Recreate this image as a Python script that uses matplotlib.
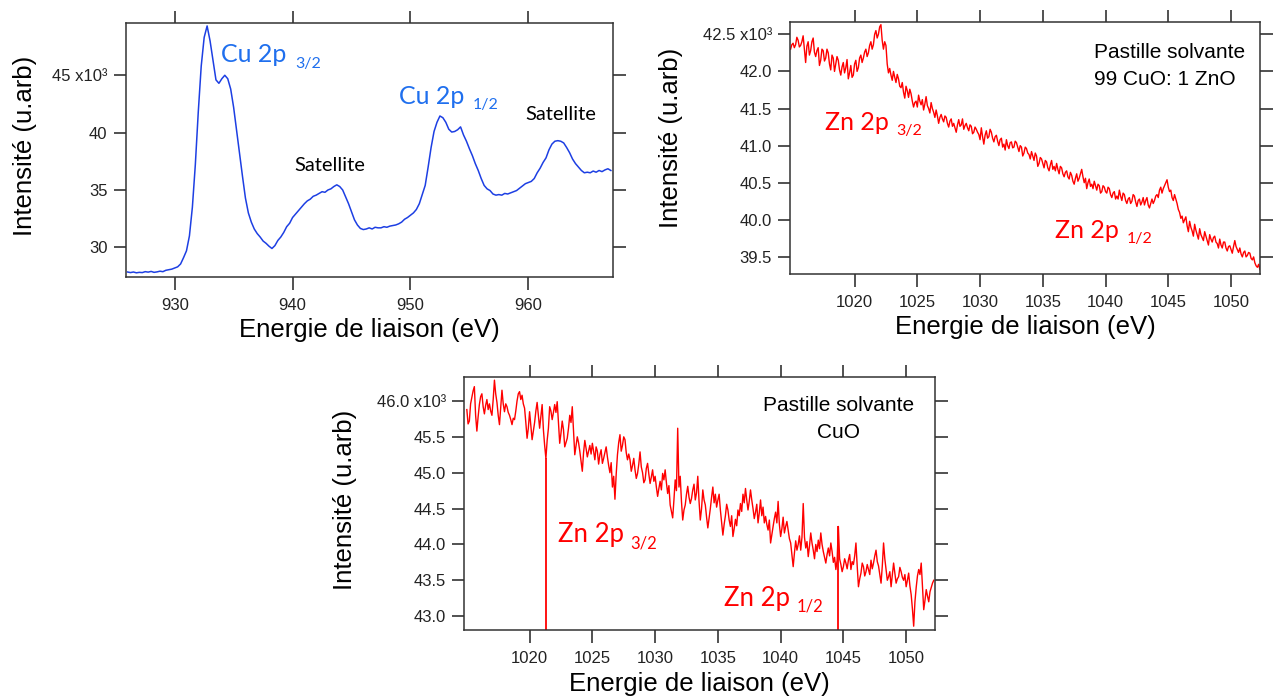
import numpy as np
import matplotlib
matplotlib.use("Agg")
import matplotlib.pyplot as plt
from matplotlib.ticker import FixedLocator, FixedFormatter

plt.rcParams['font.family'] = ['Liberation Sans', 'DejaVu Sans']

# --- Spectre Cu 2p (x10^3), pas de 0.25 eV depuis 926 eV
cu_debut, cu_pas = 926.0, 0.25
intensite_cu = [
    27.85, 27.80, 27.85, 27.78,  27.82, 27.80, 27.88, 27.84,
    27.90, 27.82, 27.86, 27.92,  27.88, 28.00, 28.05, 28.10,
    28.20, 28.30, 28.55, 29.10,  29.70, 31.00, 33.50, 37.20,
    41.80, 45.80, 48.30, 49.30,  48.00, 46.30, 44.60, 44.30,
    44.70, 45.00, 44.70, 43.80,  42.20, 40.20, 38.20, 36.20,
    34.30, 33.00, 32.20, 31.60,  31.20, 30.90, 30.55, 30.35,
    30.10, 29.90, 30.15, 30.60,  30.90, 31.30, 31.80, 32.10,
    32.60, 32.90, 33.20, 33.50,  33.80, 34.05, 34.20, 34.45,
    34.55, 34.70, 34.85, 34.80,  35.00, 35.10, 35.30, 35.45,
    35.30, 35.00, 34.40, 33.80,  33.10, 32.40, 31.95, 31.65,
    31.55, 31.60, 31.70, 31.60,  31.75, 31.70, 31.70, 31.80,
    31.75, 31.85, 31.90, 31.95,  32.05, 32.20, 32.45, 32.60,
    32.80, 33.00, 33.30, 33.80,  34.60, 35.40, 37.00, 38.70,
    40.10, 40.90, 41.45, 41.30,  40.90, 40.30, 40.05, 40.10,
    40.25, 40.50, 39.80, 39.25,  38.60, 38.00, 37.30, 36.70,
    36.00, 35.40, 35.10, 34.95,  34.65, 34.55, 34.60, 34.55,
    34.70, 34.65, 34.75, 34.85,  34.95, 35.15, 35.35, 35.55,
    35.65, 35.75, 36.00, 36.50,  36.90, 37.40, 37.80, 38.50,
    39.00, 39.25, 39.30, 39.25,  39.10, 38.70, 38.25, 37.70,
    37.30, 37.00, 36.70, 36.50,  36.55, 36.50, 36.65, 36.55,
    36.70, 36.60, 36.75, 36.85,  36.70,
]

# --- Pastille 99 CuO : 1 ZnO, Zn 2p (x10^3), pas de 0.1 eV depuis 1014.9 eV
zn99_debut, zn99_pas = 1014.9, 0.1
intensite_zn99 = [
    42.30, 42.36, 42.38, 42.32, 42.36, 42.46, 42.42, 42.33, 42.35, 42.40,
    42.48, 42.30, 42.12, 42.34, 42.40, 42.22, 42.28, 42.40, 42.45, 42.26,
    42.20, 42.28, 42.32, 42.08, 42.15, 42.30, 42.28, 42.14, 42.18, 42.30,
    42.25, 42.10, 42.02, 42.22, 42.18, 42.00, 42.10, 42.20, 42.15, 42.02,
    41.95, 42.06, 42.12, 41.98, 42.05, 42.16, 41.90, 41.98, 42.08, 41.92,
    41.95, 42.10, 42.15, 42.00, 42.05, 42.18, 42.22, 42.12, 42.18, 42.26,
    42.30, 42.20, 42.25, 42.35, 42.40, 42.30, 42.36, 42.50, 42.55, 42.45,
    42.50, 42.60, 42.63, 42.42, 42.30, 42.40, 42.35, 42.10, 41.98, 42.04,
    41.95, 41.88, 42.00, 41.92, 41.85, 41.96, 41.90, 41.80, 41.78, 41.85,
    41.72, 41.64, 41.80, 41.74, 41.65, 41.76, 41.70, 41.60, 41.52, 41.58,
    41.60, 41.52, 41.68, 41.60, 41.55, 41.62, 41.48, 41.56, 41.66, 41.54,
    41.50, 41.44, 41.58, 41.50, 41.45, 41.38, 41.48, 41.40, 41.30, 41.38,
    41.42, 41.36, 41.32, 41.40, 41.38, 41.30, 41.25, 41.33, 41.36, 41.26,
    41.30, 41.24, 41.18, 41.28, 41.35, 41.26, 41.28, 41.36, 41.22, 41.27,
    41.30, 41.24, 41.20, 41.28, 41.26, 41.16, 41.18, 41.25, 41.22, 41.18,
    41.15, 41.08, 41.24, 41.12, 41.02, 41.14, 41.20, 41.10, 41.12, 41.22,
    41.18, 41.10, 41.05, 41.12, 41.14, 41.06, 41.00, 41.08, 41.10, 40.98,
    41.02, 40.94, 41.08, 41.00, 40.96, 41.04, 41.05, 40.97, 40.98, 41.06,
    41.04, 40.98, 40.92, 41.00, 40.98, 40.86, 40.90, 40.98, 40.96, 40.90,
    40.88, 40.82, 40.92, 40.86, 40.80, 40.90, 40.86, 40.72, 40.76, 40.84,
    40.82, 40.76, 40.70, 40.80, 40.78, 40.70, 40.66, 40.74, 40.80, 40.68,
    40.72, 40.66, 40.76, 40.68, 40.62, 40.72, 40.70, 40.62, 40.58, 40.64,
    40.66, 40.58, 40.55, 40.64, 40.60, 40.52, 40.48, 40.56, 40.62, 40.52,
    40.56, 40.62, 40.68, 40.58, 40.50, 40.56, 40.42, 40.50, 40.55, 40.45,
    40.48, 40.42, 40.52, 40.46, 40.40, 40.48, 40.46, 40.36, 40.38, 40.46,
    40.44, 40.38, 40.36, 40.44, 40.42, 40.34, 40.30, 40.36, 40.38, 40.28,
    40.32, 40.28, 40.40, 40.32, 40.26, 40.36, 40.34, 40.26, 40.22, 40.28,
    40.30, 40.22, 40.25, 40.34, 40.32, 40.24, 40.18, 40.26, 40.28, 40.20,
    40.24, 40.30, 40.20, 40.26, 40.30, 40.20, 40.16, 40.22, 40.28, 40.22,
    40.26, 40.32, 40.34, 40.30, 40.40, 40.44, 40.36, 40.42, 40.46, 40.50,
    40.54, 40.44, 40.38, 40.40, 40.30, 40.26, 40.34, 40.28, 40.22, 40.14,
    40.10, 40.02, 40.05, 39.96, 40.00, 40.04, 39.92, 39.84, 39.98, 39.90,
    39.85, 39.78, 39.94, 39.86, 39.80, 39.74, 39.88, 39.80, 39.76, 39.72,
    39.84, 39.78, 39.72, 39.66, 39.80, 39.74, 39.70, 39.76, 39.78, 39.70,
    39.68, 39.62, 39.74, 39.66, 39.62, 39.70, 39.70, 39.62, 39.58, 39.64,
    39.65, 39.60, 39.55, 39.64, 39.72, 39.64, 39.60, 39.56, 39.62, 39.54,
    39.50, 39.56, 39.58, 39.50, 39.52, 39.56, 39.55, 39.48, 39.46, 39.50,
    39.42, 39.38, 39.36, 39.40, 39.33,
]

# --- Pastille CuO, region Zn 2p (x10^3), pas de 0.1 eV depuis 1015.0 eV
cuo_debut, cuo_pas = 1015.0, 0.1
intensite_cuo = [
    45.88, 45.68, 45.72, 45.96, 46.05, 46.14, 46.20, 45.80, 45.58, 45.78,
    45.95, 46.06, 46.10, 45.92, 45.82, 45.94, 46.02, 45.88, 45.96, 45.86,
    45.80, 46.02, 46.29, 46.10, 45.98, 45.80, 45.67, 45.92, 46.15, 45.96,
    45.85, 45.96, 45.92, 45.84, 45.80, 45.74, 45.67, 45.76, 45.74, 45.86,
    46.00, 46.10, 46.13, 46.02, 46.08, 45.96, 45.90, 45.70, 45.48, 45.62,
    45.85, 45.66, 45.46, 45.58, 45.70, 45.86, 45.98, 45.80, 45.62, 45.78,
    45.95, 45.60, 45.38, 45.20, 45.45, 45.62, 45.92, 45.86, 45.74, 45.84,
    45.95, 45.84, 45.99, 45.70, 45.41, 45.55, 45.72, 45.60, 45.36, 45.42,
    45.48, 45.62, 45.80, 45.70, 45.92, 45.58, 45.25, 45.38, 45.50, 45.42,
    45.30, 45.16, 45.02, 45.28, 45.45, 45.34, 45.22, 45.30, 45.38, 45.26,
    45.41, 45.30, 45.18, 45.36, 45.30, 45.12, 45.25, 45.32, 45.13, 45.20,
    45.28, 45.36, 45.22, 45.10, 45.00, 45.14, 44.80, 44.95, 44.63, 44.98,
    45.25, 45.42, 45.53, 45.30, 45.38, 45.50, 45.46, 45.28, 45.18, 45.26,
    45.18, 45.02, 45.10, 45.20, 45.04, 44.92, 44.99, 45.12, 45.29, 45.08,
    45.00, 44.86, 44.90, 45.06, 45.13, 44.98, 44.85, 44.94, 45.04, 44.88,
    44.95, 44.80, 44.67, 44.78, 44.88, 44.76, 44.99, 44.90, 45.04, 44.86,
    44.71, 44.82, 44.55, 44.46, 44.37, 44.62, 44.90, 44.75, 45.62, 44.80,
    44.95, 44.60, 44.34, 44.48, 44.55, 44.70, 44.81, 44.66, 44.57, 44.64,
    44.76, 44.84, 44.62, 44.72, 44.95, 44.60, 44.34, 44.50, 44.76, 44.62,
    44.55, 44.38, 44.23, 44.36, 44.50, 44.66, 44.80, 44.58, 44.70, 44.52,
    44.62, 44.70, 44.48, 44.30, 44.13, 44.28, 44.40, 44.56, 44.48, 44.34,
    44.25, 44.40, 44.11, 44.22, 44.35, 44.26, 44.48, 44.40, 44.57, 44.46,
    44.70, 44.58, 44.78, 44.62, 44.48, 44.60, 44.76, 44.62, 44.50, 44.36,
    44.45, 44.56, 44.30, 44.44, 44.62, 44.40, 44.52, 44.30, 44.39, 44.28,
    44.20, 44.34, 44.02, 44.14, 44.25, 44.36, 44.45, 44.30, 44.60, 44.28,
    44.11, 44.22, 44.38, 44.16, 44.25, 44.32, 44.20, 44.08, 44.02, 43.86,
    43.69, 43.88, 44.05, 43.92, 44.00, 44.12, 43.92, 44.10, 44.57, 44.10,
    43.95, 44.04, 43.83, 43.98, 44.16, 44.02, 43.92, 43.80, 44.00, 43.90,
    44.06, 43.94, 44.16, 44.00, 43.90, 43.82, 43.74, 43.86, 43.95, 43.84,
    44.02, 43.90, 43.75, 43.82, 43.65, 43.78, 44.25, 43.80, 43.72, 43.62,
    43.69, 43.80, 43.74, 43.66, 43.78, 43.86, 43.65, 43.76, 43.72, 43.84,
    44.02, 43.70, 43.41, 43.52, 43.60, 43.74, 43.69, 43.56, 43.62, 43.72,
    43.65, 43.58, 43.78, 43.66, 43.74, 43.84, 43.92, 43.76, 43.70, 43.58,
    43.46, 43.70, 44.02, 43.80, 43.65, 43.50, 43.55, 43.62, 43.41, 43.58,
    43.74, 43.60, 43.46, 43.52, 43.55, 43.68, 43.62, 43.54, 43.50, 43.58,
    43.41, 43.50, 43.60, 43.42, 43.30, 43.10, 42.86, 43.20, 43.40, 43.56,
    43.65, 43.58, 43.74, 43.40, 43.09, 43.22, 43.37, 43.28, 43.20, 43.34,
    43.40, 43.46, 43.50,
]
# traits verticaux marquant Zn 2p sur le spectre CuO
zn_traits_e = [1021.3, 1044.6]
zn_traits_haut = [45.20, 44.25]

# graduations
cu_xticks = [930, 940, 950, 960]
cu_yticks = [30, 35, 40, 45]
cu_ylabels = ["30", "35", "40", "45 x10³"]
zn_xticks = [1020, 1025, 1030, 1035, 1040, 1045, 1050]
zn99_yticks = [39.5, 40.0, 40.5, 41.0, 41.5, 42.0, 42.5]
zn99_ylabels = ["39.5", "40.0", "40.5", "41.0", "41.5", "42.0", "42.5 x10³"]
cuo_yticks = [43.0, 43.5, 44.0, 44.5, 45.0, 45.5, 46.0]
cuo_ylabels = ["43.0", "43.5", "44.0", "44.5", "45.0", "45.5", "46.0 x10³"]

bleu_trace = '#1d3fe3'
bleu_texte = '#1f6fee'
rouge = '#ff0000'
W, H = 1277, 700

fig = plt.figure(figsize=(W / 100, H / 100), dpi=100)
ax1 = fig.add_axes([0.0984, 0.6047, 0.3818, 0.362])
ax2 = fig.add_axes([0.6186, 0.6086, 0.368, 0.3604])
ax3 = fig.add_axes([0.3636, 0.0993, 0.3686, 0.3617])


def style_axe(ax, xticks, yticks, ylabels, xlim, ylim, ylab_x, ylab_y):
    ax.set_xlim(*xlim)
    ax.set_ylim(*ylim)
    ax.xaxis.set_major_locator(FixedLocator(xticks))
    ax.yaxis.set_major_locator(FixedLocator(yticks))
    ax.yaxis.set_major_formatter(FixedFormatter(ylabels))
    ax.tick_params(direction='out', length=9, width=1.1, pad=4,
                   labelsize=12, colors='#222222',
                   top=True, right=True, labeltop=False, labelright=False)
    ax.tick_params(axis='x', pad=6)
    for s in ax.spines.values():
        s.set_color('#333333')
        s.set_linewidth(1.1)
    ax.set_xlabel('Energie de liaison (eV)', fontsize=18.5, labelpad=4)
    ax.set_ylabel('Intensité (u.arb)', fontsize=18.5)
    ax.yaxis.set_label_coords(ylab_x, ylab_y)


e_cu = cu_debut + cu_pas * np.arange(len(intensite_cu))
e_zn99 = zn99_debut + zn99_pas * np.arange(len(intensite_zn99))
e_cuo = cuo_debut + cuo_pas * np.arange(len(intensite_cuo))

ax1.plot(e_cu, intensite_cu, color=bleu_trace, lw=1.1)
style_axe(ax1, cu_xticks, cu_yticks, cu_ylabels, (925.84, 967.2), (27.44, 49.53), -0.182, 0.516)

ax2.plot(e_zn99, intensite_zn99, color=rouge, lw=1.0)
style_axe(ax2, zn_xticks, zn99_yticks, zn99_ylabels, (1014.85, 1052.3), (39.27, 42.67), -0.228, 0.539)

ax3.plot(e_cuo, intensite_cuo, color=rouge, lw=1.0)
style_axe(ax3, zn_xticks, cuo_yticks, cuo_ylabels, (1014.8, 1052.3), (42.8, 46.33), -0.228, 0.515)
ax3.vlines(zn_traits_e, 42.8, zn_traits_haut, color=rouge, lw=1.3)


def texte(px, py, s, **kw):
    # position en pixels de l'image (origine en haut a gauche), ligne de base
    fig.text(px / W, 1 - py / H, s, va='baseline', **kw)


lato = dict(family=['Lato', 'DejaVu Sans'])
# panneau Cu 2p
texte(221, 61.7, 'Cu 2p', color=bleu_texte, fontsize=18, **lato)
texte(295, 68, '3/2', color=bleu_texte, fontsize=11.5, **lato)
texte(399, 104.3, 'Cu 2p', color=bleu_texte, fontsize=18, **lato)
texte(473, 109, '1/2', color=bleu_texte, fontsize=11.5, **lato)
texte(294, 170.7, 'Satellite', color='black', fontsize=14.5, **lato)
texte(525, 120, 'Satellite', color='black', fontsize=14.5, **lato)

# panneau 99 CuO : 1 ZnO
texte(1094, 58.3, 'Pastille solvante', color='black', fontsize=15)
texte(1094, 85, '99 CuO: 1 ZnO', color='black', fontsize=15)
texte(825, 130, 'Zn 2p', color=rouge, fontsize=18, **lato)
texte(896, 135, '3/2', color=rouge, fontsize=11.5, **lato)
texte(1054.6, 237.7, 'Zn 2p', color=rouge, fontsize=18, **lato)
texte(1127, 243, '1/2', color=rouge, fontsize=11.5, **lato)

# panneau CuO
texte(838.5, 410.7, 'Pastille solvante', color='black', fontsize=15, ha='center')
texte(838.5, 438.3, 'CuO', color='black', fontsize=15, ha='center')
texte(557.7, 542.3, 'Zn 2p', color=rouge, fontsize=18.5, **lato)
texte(630.7, 548.3, '3/2', color=rouge, fontsize=12, **lato)
texte(724.3, 605.7, 'Zn 2p', color=rouge, fontsize=18.5, **lato)
texte(796.7, 611.7, '1/2', color=rouge, fontsize=12, **lato)

plt.savefig('out.png', dpi=100)
print("Graphique enregistre dans out.png")
